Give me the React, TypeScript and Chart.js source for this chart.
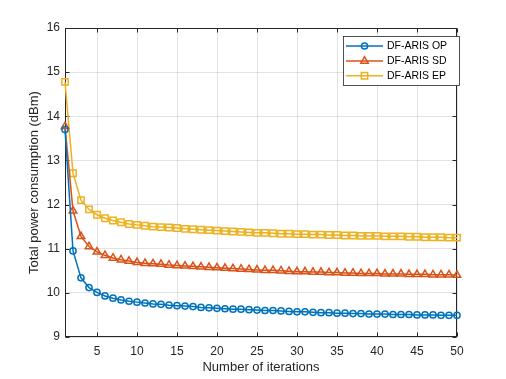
import React, { useEffect, useRef } from 'react';
import { Chart, registerables } from 'chart.js';

Chart.register(...registerables);

const iterations: number[] = Array.from({ length: 50 }, (_, i) => i + 1);

const opValues: number[] = [
  13.70, 10.95, 10.34, 10.12, 10.01, 9.93, 9.88, 9.84, 9.81, 9.79,
  9.77, 9.75, 9.74, 9.72, 9.71, 9.70, 9.69, 9.67, 9.66, 9.65,
  9.64, 9.63, 9.63, 9.62, 9.61, 9.60, 9.60, 9.59, 9.58, 9.57,
  9.57, 9.56, 9.55, 9.55, 9.54, 9.54, 9.53, 9.53, 9.52, 9.52,
  9.52, 9.51, 9.51, 9.51, 9.50, 9.50, 9.50, 9.49, 9.49, 9.49,
];

const sdValues: number[] = [
  13.77, 11.86, 11.28, 11.05, 10.93, 10.85, 10.79, 10.75, 10.72, 10.69,
  10.67, 10.66, 10.65, 10.63, 10.62, 10.61, 10.60, 10.59, 10.58, 10.57,
  10.56, 10.55, 10.54, 10.53, 10.52, 10.51, 10.51, 10.50, 10.49, 10.48,
  10.48, 10.47, 10.47, 10.46, 10.46, 10.45, 10.45, 10.44, 10.44, 10.44,
  10.43, 10.43, 10.43, 10.42, 10.42, 10.42, 10.41, 10.41, 10.41, 10.40,
];

const epValues: number[] = [
  14.78, 12.71, 12.10, 11.89, 11.77, 11.69, 11.64, 11.60, 11.56, 11.54,
  11.52, 11.50, 11.49, 11.48, 11.47, 11.45, 11.44, 11.43, 11.42, 11.41,
  11.40, 11.39, 11.38, 11.37, 11.36, 11.36, 11.35, 11.34, 11.34, 11.33,
  11.33, 11.32, 11.32, 11.31, 11.31, 11.30, 11.30, 11.29, 11.29, 11.29,
  11.28, 11.28, 11.28, 11.27, 11.27, 11.26, 11.26, 11.26, 11.25, 11.25,
];

const seriesNames: string[] = ['DF-ARIS OP', 'DF-ARIS SD', 'DF-ARIS EP'];
const seriesColors: string[] = ['#0072BD', '#D95319', '#EDB120'];
const seriesMarkers: string[] = ['circle', 'triangle', 'rect'];

const xTicks: number[] = [5, 10, 15, 20, 25, 30, 35, 40, 45, 50];
const yTicks: number[] = [9, 10, 11, 12, 13, 14, 15, 16];
const xTitle = 'Number of iterations';
const yTitle = 'Total power consumption (dBm)';

const FONT = "'Liberation Sans', Arial, Helvetica, sans-serif";
const AXIS = '#262626';
const GRID = 'rgba(38,38,38,0.13)';

function markerRadius(style: string): number {
  if (style === 'circle') return 3.1;
  if (style === 'triangle') return 4.3;
  return 4.5;
}

function drawMarker(ctx: CanvasRenderingContext2D, style: string, x: number, y: number, color: string) {
  const r = markerRadius(style);
  ctx.save();
  ctx.strokeStyle = color;
  ctx.lineWidth = 1.5;
  ctx.beginPath();
  if (style === 'circle') {
    ctx.arc(x, y, r, 0, Math.PI * 2);
  } else if (style === 'triangle') {
    ctx.moveTo(x, y - r);
    ctx.lineTo(x + r * 0.866, y + r * 0.5);
    ctx.lineTo(x - r * 0.866, y + r * 0.5);
    ctx.closePath();
  } else {
    const s = r * Math.SQRT1_2;
    ctx.rect(x - s, y - s, 2 * s, 2 * s);
  }
  ctx.stroke();
  ctx.restore();
}

const boxPlugin = {
  id: 'matlabBox',
  beforeDatasetsDraw(chart: any) {
    const { ctx, chartArea: a, scales } = chart;
    const L = Math.round(a.left) + 0.5;
    const R = Math.round(a.right) - 0.5;
    const T = Math.round(a.top) + 0.5;
    const B = Math.round(a.bottom) - 0.5;
    ctx.save();
    ctx.strokeStyle = AXIS;
    ctx.lineWidth = 1;
    ctx.beginPath();
    const tl = 4;
    xTicks.forEach((v) => {
      const px = Math.round(scales.x.getPixelForValue(v)) + 0.5;
      ctx.moveTo(px, B);
      ctx.lineTo(px, B - tl);
      ctx.moveTo(px, T);
      ctx.lineTo(px, T + tl);
    });
    yTicks.forEach((v) => {
      const py = Math.round(scales.y.getPixelForValue(v)) + 0.5;
      ctx.moveTo(L, py);
      ctx.lineTo(L + tl, py);
      ctx.moveTo(R, py);
      ctx.lineTo(R - tl, py);
    });
    ctx.stroke();
    ctx.strokeRect(L, T, R - L, B - T);
    ctx.restore();
  },
};

const legendPlugin = {
  id: 'matlabLegend',
  afterDraw(chart: any) {
    const { ctx } = chart;
    const bx = 343.5, by = 36.5, bw = 116, bh = 49;
    ctx.save();
    ctx.fillStyle = '#ffffff';
    ctx.fillRect(bx, by, bw, bh);
    ctx.strokeStyle = AXIS;
    ctx.lineWidth = 0.8;
    ctx.strokeRect(bx, by, bw, bh);
    const rows = [46, 61, 75.7];
    seriesNames.forEach((name, i) => {
      const y = rows[i];
      ctx.strokeStyle = seriesColors[i];
      ctx.lineWidth = 1.5;
      ctx.beginPath();
      ctx.moveTo(346, y);
      ctx.lineTo(383, y);
      ctx.stroke();
      drawMarker(ctx, seriesMarkers[i], 364.5, y, seriesColors[i]);
      ctx.fillStyle = '#000000';
      ctx.font = `10.5px ${FONT}`;
      ctx.textBaseline = 'middle';
      ctx.textAlign = 'left';
      ctx.fillText(name, 387, y + 0.5);
    });
    ctx.restore();
  },
};

export default function App() {
  const ref = useRef<HTMLCanvasElement | null>(null);

  useEffect(() => {
    document.body.style.margin = '0';
    const canvas = ref.current;
    if (!canvas) return;
    const allValues = [opValues, sdValues, epValues];
    const chart = new Chart(canvas, {
      type: 'line',
      data: {
        datasets: allValues.map((vals, i) => ({
          label: seriesNames[i],
          data: iterations.map((x, j) => ({ x, y: vals[j] })),
          borderColor: seriesColors[i],
          backgroundColor: 'rgba(0,0,0,0)',
          borderWidth: 1.5,
          pointStyle: seriesMarkers[i] as any,
          pointRadius: markerRadius(seriesMarkers[i]),
          pointBorderWidth: 1.5,
          pointBorderColor: seriesColors[i],
          pointBackgroundColor: 'rgba(0,0,0,0)',
          pointHoverRadius: markerRadius(seriesMarkers[i]),
          tension: 0,
          clip: false as any,
        })),
      },
      options: {
        animation: false,
        responsive: false,
        maintainAspectRatio: false,
        events: [],
        layout: { padding: { top: 28, right: 49, left: 0, bottom: 0 } },
        plugins: {
          legend: { display: false },
          tooltip: { enabled: false },
        },
        scales: {
          x: {
            type: 'linear',
            min: 1,
            max: 50,
            afterBuildTicks: (scale: any) => {
              scale.ticks = xTicks.map((v) => ({ value: v }));
            },
            afterFit: (scale: any) => {
              scale.height = 42;
            },
            grid: { color: GRID, drawTicks: false, lineWidth: 1 },
            border: { display: false },
            ticks: {
              color: AXIS,
              font: { family: FONT, size: 12 },
              padding: 7,
              maxRotation: 0,
              autoSkip: false,
            },
            title: {
              display: true,
              text: xTitle,
              color: AXIS,
              font: { family: FONT, size: 13 },
              padding: { top: 0, bottom: 3.5 },
            },
          },
          y: {
            type: 'linear',
            min: 9,
            max: 16,
            afterBuildTicks: (scale: any) => {
              scale.ticks = yTicks.map((v) => ({ value: v }));
            },
            afterFit: (scale: any) => {
              scale.width = 65;
            },
            grid: { color: GRID, drawTicks: false, lineWidth: 1 },
            border: { display: false },
            ticks: {
              color: AXIS,
              font: { family: FONT, size: 12 },
              padding: 5,
              autoSkip: false,
            },
            title: {
              display: true,
              text: yTitle,
              color: AXIS,
              font: { family: FONT, size: 13 },
              padding: { top: 27, bottom: 0 },
            },
          },
        },
      },
      plugins: [boxPlugin, legendPlugin],
    });
    return () => chart.destroy();
  }, []);

  return (
    <div style={{ width: 506, height: 379, background: '#ffffff' }}>
      <canvas ref={ref} width={506} height={379} style={{ display: 'block' }} />
    </div>
  );
}
